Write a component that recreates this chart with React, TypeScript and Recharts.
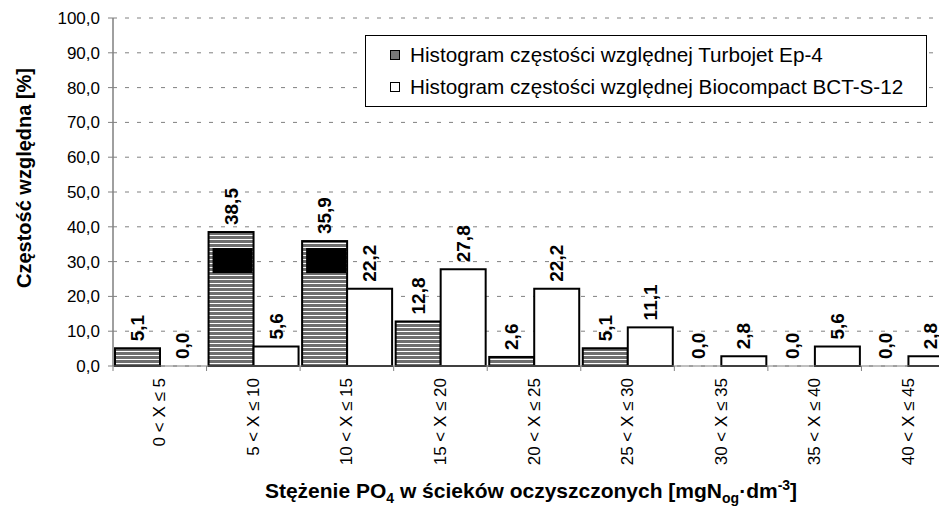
import { Bar, BarChart, CartesianGrid, LabelList, Legend, XAxis, YAxis } from "recharts";

const FONT = "'Liberation Sans', Arial, sans-serif";

const categories = [
  "0 < X ≤ 5",
  "5 < X ≤ 10",
  "10 < X ≤ 15",
  "15 < X ≤ 20",
  "20 < X ≤ 25",
  "25 < X ≤ 30",
  "30 < X ≤ 35",
  "35 < X ≤ 40",
  "40 < X ≤ 45",
];
const turbojet = [5.1, 38.5, 35.9, 12.8, 2.6, 5.1, 0, 0, 0];
const biocompact = [0, 5.6, 22.2, 27.8, 22.2, 11.1, 2.8, 5.6, 2.8];
const seriesNames = [
  "Histogram częstości względnej Turbojet Ep-4",
  "Histogram częstości względnej Biocompact BCT-S-12",
];
const yTicks = [0, 10, 20, 30, 40, 50, 60, 70, 80, 90, 100];
const binEdges = [0, 1, 2, 3, 4, 5, 6, 7, 8, 9];

// solid dark patches visible inside two of the Turbojet bars
const darkPatchBins = [1, 2];
const darkPatchRange = [26.7, 33.9];

const data = categories.map((name, i) => ({
  name,
  turbojet: turbojet[i],
  biocompact: biocompact[i],
}));

const fmt = (v: number) => Number(v).toFixed(1).replace(".", ",");

function CategoryTick(props: any) {
  const { x, y, payload, width, visibleTicksCount } = props;
  const ty = Number(y) + 12;
  const band = Number(width) / Number(visibleTicksCount);
  const edge = Number(x) - band / 2;
  return (
    <g>
      {Number.isFinite(edge) && (
        <line x1={edge} x2={edge} y1={y} y2={Number(y) + 5} stroke="#808080" />
      )}
      <text
        x={x}
        y={ty}
        transform={`rotate(-90 ${x} ${ty})`}
        textAnchor="end"
        dominantBaseline="central"
        fontSize={17}
        fontFamily={FONT}
        fill="#000"
      >
        {payload.value}
      </text>
    </g>
  );
}

function OutlinedBar(props: any) {
  const { x, y, width, height, v, fill, index, patched } = props;
  if (!v) return null;
  const bottom = y + height;
  const k = height / v;
  const showPatch = patched && darkPatchBins.includes(index);
  return (
    <g>
      <rect x={x} y={y} width={width} height={height} fill={fill} stroke="#000" strokeWidth={2} />
      {showPatch && (
        <rect
          x={x + 4}
          y={bottom - darkPatchRange[1] * k}
          width={width - 5}
          height={(darkPatchRange[1] - darkPatchRange[0]) * k}
          fill="#000"
        />
      )}
    </g>
  );
}

function renderBarValue(props: any) {
  const { x, y, width, value } = props;
  const cx = Number(x) + Number(width) / 2;
  const ty = Number(y) - 7;
  return (
    <text
      x={cx}
      y={ty}
      transform={`rotate(-90 ${cx} ${ty})`}
      textAnchor="start"
      dominantBaseline="central"
      fontSize={19}
      fontWeight="bold"
      fontFamily={FONT}
      fill="#000"
    >
      {fmt(value)}
    </text>
  );
}

function renderYTitle(props: any) {
  const { viewBox } = props;
  const tx = viewBox.x + 24;
  const ty = viewBox.y + viewBox.height / 2 - 14;
  return (
    <text
      x={tx}
      y={ty}
      transform={`rotate(-90 ${tx} ${ty})`}
      textAnchor="middle"
      dominantBaseline="central"
      fontSize={20}
      fontWeight="bold"
      fontFamily={FONT}
      fill="#000"
    >
      Częstość względna [%]
    </text>
  );
}

function renderXTitle(props: any) {
  const { viewBox } = props;
  const tx = viewBox.x + viewBox.width / 2 - 3;
  const ty = viewBox.y + viewBox.height - 8;
  return (
    <text
      x={tx}
      y={ty}
      textAnchor="middle"
      fontSize={21}
      fontWeight="bold"
      fontFamily={FONT}
      fill="#000"
    >
      Stężenie PO
      <tspan fontSize={14} dy={5}>4</tspan>
      <tspan dy={-5}> w ścieków oczyszczonych [mgN</tspan>
      <tspan fontSize={14} dy={5}>og</tspan>
      <tspan dy={-5}>·dm</tspan>
      <tspan fontSize={14} dy={-8}>-3</tspan>
      <tspan dy={8}>]</tspan>
    </text>
  );
}

function LegendBox() {
  const swatches = ["#777777", "#ffffff"];
  return (
    <div
      style={{
        border: "1px solid #000",
        background: "#fff",
        padding: "3px 0 3px 24px",
        width: 536,
        fontFamily: FONT,
        fontSize: 20.7,
        color: "#000",
      }}
    >
      {seriesNames.map((name, i) => (
        <div
          key={name}
          style={{ display: "flex", alignItems: "center", height: 32, whiteSpace: "nowrap" }}
        >
          <span
            style={{
              display: "inline-block",
              width: 8,
              height: 8,
              border: "1.5px solid #000",
              background: swatches[i],
              marginRight: 10,
            }}
          />
          {name}
        </div>
      ))}
    </div>
  );
}

export default function App() {
  return (
    <div
      style={{
        position: "absolute",
        left: 0,
        top: 0,
        width: 939,
        height: 506,
        overflow: "hidden",
        background: "#fff",
      }}
    >
      <BarChart
        width={960}
        height={506}
        data={data}
        margin={{ top: 18, right: 5, bottom: 0, left: 0 }}
        barCategoryGap={2}
        barGap={0}
      >
        <defs>
          <pattern id="stripes" width="4" height="4" patternUnits="userSpaceOnUse">
            <rect width="4" height="4" fill="#ffffff" />
            <rect width="4" height="3" fill="#6e6e6e" />
          </pattern>
        </defs>
        <CartesianGrid vertical={false} stroke="#808080" strokeDasharray="4 8" />
        <CartesianGrid xAxisId="edges" horizontal={false} stroke="#808080" />
        <XAxis
          dataKey="name"
          height={140}
          interval={0}
          tickLine={false}
          axisLine={{ stroke: "#808080" }}
          tickSize={0}
          tickMargin={0}
          tick={<CategoryTick />}
          label={renderXTitle}
        />
        <XAxis
          xAxisId="edges"
          type="number"
          domain={[0, 9]}
          ticks={binEdges}
          interval={0}
          orientation="bottom"
          mirror
          tick={false}
          tickLine={false}
          axisLine={false}
        />
        <YAxis
          domain={[0, 100]}
          ticks={yTicks}
          interval={0}
          width={113}
          tickSize={5}
          tickMargin={8}
          axisLine={{ stroke: "#808080" }}
          tickLine={{ stroke: "#808080" }}
          tick={{ fill: "#000", fontSize: 17, fontFamily: FONT }}
          tickFormatter={fmt}
          label={renderYTitle}
        />
        <Legend
          layout="vertical"
          align="center"
          verticalAlign="middle"
          wrapperStyle={{ left: 365, top: 35, width: 562 }}
          content={<LegendBox />}
        />
        <Bar
          dataKey="turbojet"
          name={seriesNames[0]}
          fill="url(#stripes)"
          minPointSize={0.01}
          shape={(p: any) => (
            <OutlinedBar {...p} v={p.payload.turbojet} fill="url(#stripes)" patched />
          )}
          isAnimationActive={false}
        >
          <LabelList dataKey="turbojet" content={renderBarValue} />
        </Bar>
        <Bar
          dataKey="biocompact"
          name={seriesNames[1]}
          fill="#ffffff"
          minPointSize={0.01}
          shape={(p: any) => <OutlinedBar {...p} v={p.payload.biocompact} fill="#ffffff" />}
          isAnimationActive={false}
        >
          <LabelList dataKey="biocompact" content={renderBarValue} />
        </Bar>
      </BarChart>
    </div>
  );
}
